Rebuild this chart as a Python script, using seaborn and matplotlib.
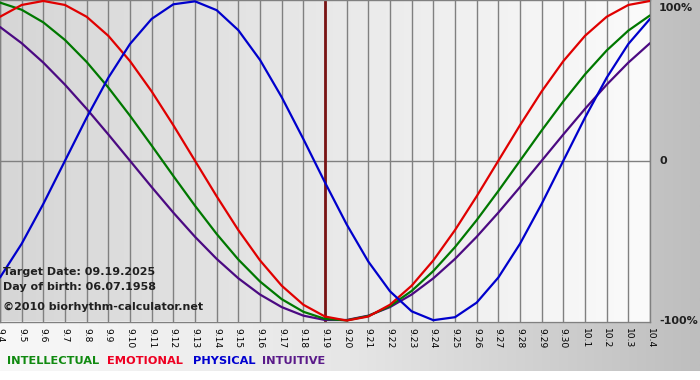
import numpy as np
import pandas as pd
import matplotlib
matplotlib.use('Agg')
import matplotlib.pyplot as plt
import seaborn as sns
from matplotlib.colors import LinearSegmentedColormap

# days shown on the chart (09.04 .. 10.04)
days = ['9.4', '9.5', '9.6', '9.7', '9.8', '9.9', '9.10', '9.11', '9.12', '9.13',
        '9.14', '9.15', '9.16', '9.17', '9.18', '9.19', '9.20', '9.21', '9.22', '9.23',
        '9.24', '9.25', '9.26', '9.27', '9.28', '9.29', '9.30', '10.1', '10.2', '10.3', '10.4']
today = '9.19'

# cycle values per day (-1 .. 1)
physical = [-0.7308, -0.5196, -0.2698, 0.0, 0.2698, 0.5196, 0.7308, 0.8879, 0.9791, 0.9977,
            0.9423, 0.8170, 0.6311, 0.3984, 0.1362, -0.1362, -0.3984, -0.6311, -0.8170, -0.9423,
            -0.9977, -0.9791, -0.8879, -0.7308, -0.5196, -0.2698, 0.0, 0.2698, 0.5196, 0.7308, 0.8879]
emotional = [0.9010, 0.9749, 1.0, 0.9749, 0.9010, 0.7818, 0.6235, 0.4339, 0.2225, 0.0,
             -0.2225, -0.4339, -0.6235, -0.7818, -0.9010, -0.9749, -1.0, -0.9749, -0.9010, -0.7818,
             -0.6235, -0.4339, -0.2225, 0.0, 0.2225, 0.4339, 0.6235, 0.7818, 0.9010, 0.9749, 1.0]
intellectual = [0.9898, 0.9450, 0.8660, 0.7557, 0.6182, 0.4582, 0.2817, 0.0951, -0.0951, -0.2817,
                -0.4582, -0.6182, -0.7557, -0.8660, -0.9450, -0.9898, -0.9989, -0.9718, -0.9096, -0.8146,
                -0.6901, -0.5406, -0.3717, -0.1893, 0.0, 0.1893, 0.3717, 0.5406, 0.6901, 0.8146, 0.9096]
intuitive = [0.8372, 0.7357, 0.6142, 0.4759, 0.3247, 0.1646, 0.0, -0.1646, -0.3247, -0.4759,
             -0.6142, -0.7357, -0.8372, -0.9158, -0.9694, -0.9966, -0.9966, -0.9694, -0.9158, -0.8372,
             -0.7357, -0.6142, -0.4759, -0.3247, -0.1646, 0.0, 0.1646, 0.3247, 0.4759, 0.6142, 0.7357]

cycles = ['INTELLECTUAL', 'EMOTIONAL', 'PHYSICAL', 'INTUITIVE']
colors = {'INTELLECTUAL': '#007800', 'EMOTIONAL': '#e00000',
          'PHYSICAL': '#0000cc', 'INTUITIVE': '#4b0a82'}
legend_colors = {'INTELLECTUAL': '#108a10', 'EMOTIONAL': '#ee0022',
                 'PHYSICAL': '#0000d0', 'INTUITIVE': '#5a1a8a'}

info_lines = ['Target Date: 09.19.2025', 'Day of birth: 06.07.1958', '\u00a92010 biorhythm-calculator.net']

df = pd.DataFrame({'day': range(len(days)), 'INTELLECTUAL': intellectual, 'EMOTIONAL': emotional,
                   'PHYSICAL': physical, 'INTUITIVE': intuitive})
long = df.melt(id_vars='day', var_name='cycle', value_name='value')

sns.set_style('white')
plt.rcParams['font.family'] = ['DejaVu Sans']

W, H = 700, 380
fig = plt.figure(figsize=(7, 3.8), dpi=100)
fig.patch.set_facecolor('white')

# outer gradient (light left -> gray right)
bg = fig.add_axes([0, 9 / H, 1, 371 / H], zorder=0)
outer = LinearSegmentedColormap.from_list('outer', ['#f8f8f8', '#e6e6e6', '#bebebe'])
bg.imshow(np.linspace(0, 1, 256).reshape(1, -1), cmap=outer, aspect='auto', extent=[0, 1, 0, 1])
bg.set_axis_off()

ax = fig.add_axes([0, 1 - 321.5 / H, 650 / W, 321.5 / H], zorder=1)
inner = LinearSegmentedColormap.from_list('inner', ['#d6d6d6', '#fbfbfb'])
ax.imshow(np.linspace(0, 1, 256).reshape(1, -1), cmap=inner, aspect='auto',
          extent=[0, len(days) - 1, -1.006, 1.006], zorder=0)

sns.lineplot(data=long, x='day', y='value', hue='cycle', palette=colors,
             hue_order=['INTUITIVE', 'INTELLECTUAL', 'EMOTIONAL', 'PHYSICAL'],
             linewidth=1.6, legend=False, ax=ax, zorder=3)

ax.set_xlim(0, len(days) - 1)
ax.set_ylim(-1.006, 1.006)
ax.set_xticks(range(len(days)))
ax.set_xticklabels(days)
ax.grid(axis='x', color='#808080', linewidth=1)
ax.axhline(0, color='#808080', linewidth=1, zorder=1)
ax.axvline(days.index(today), color='#7a1414', linewidth=2, zorder=2)
ax.set_yticks([])
ax.set_xlabel('')
ax.set_ylabel('')
for s in ax.spines.values():
    s.set_color('#808080')
    s.set_linewidth(1)
ax.tick_params(axis='x', direction='out', length=3, width=1, color='#808080',
               pad=2, labelsize=6.6, labelrotation=-90, labelcolor='black')

for lab, yv, va in [('100%', 1.0, 'top'), ('0', 0.0, 'center'), ('-100%', -1.0, 'center')]:
    ax.annotate(lab, xy=(1, yv), xycoords=('axes fraction', 'data'), xytext=(9, -2 if va == 'top' else 0),
                textcoords='offset pixels', ha='left', va=va, fontsize=8,
                fontweight='bold', color='#202020', annotation_clip=False)

for txt, ypx in zip(info_lines, [272, 287, 307]):
    fig.text(3 / W, 1 - ypx / H, txt, ha='left', va='center', fontsize=8,
             fontweight='bold', color='#202020', zorder=5)

for name, xpx in zip(cycles, [7, 107, 193, 262]):
    fig.text(xpx / W, 1 - 361.5 / H, name, ha='left', va='center', fontsize=8.2,
             fontweight='bold', color=legend_colors[name])

fig.savefig('out.png', dpi=100)
